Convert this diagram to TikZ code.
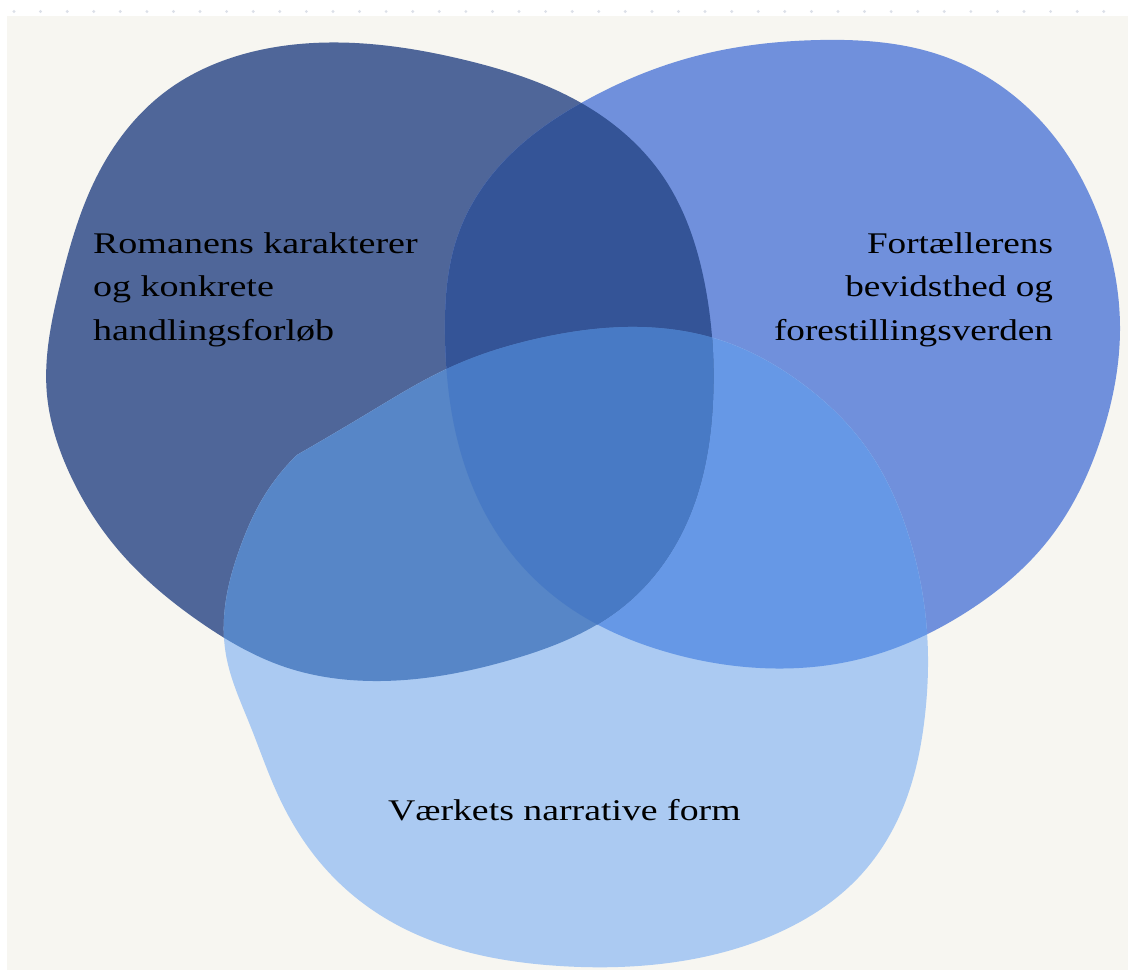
\documentclass[tikz,border=0pt]{standalone}
\usepackage{fontspec}
\usetikzlibrary{hobby}
\setmainfont{Liberation Serif}
\definecolor{bgc}{HTML}{F7F6F1}
\definecolor{dotc}{HTML}{DCE0E8}
\definecolor{colA}{HTML}{4F6699}
\definecolor{colB}{HTML}{7090DC}
\definecolor{colC}{HTML}{ABCAF2}
\definecolor{colAB}{HTML}{345497}
\definecolor{colAC}{HTML}{5786C7}
\definecolor{colBC}{HTML}{6698E6}
\definecolor{colABC}{HTML}{487AC5}
\begin{document}
\begin{tikzpicture}[x=1pt,y=-1pt,
  lbl/.style={inner sep=0pt,outer sep=0pt,text=black,font=\fontsize{30}{43.5}\selectfont}]
\useasboundingbox (0,0) rectangle (1128,970);
\fill[white] (0,0) rectangle (1128,970);
\fill[bgc] (7,16) rectangle (1128,970);
\foreach \i in {0,...,41} \fill[dotc] (14+26.58*\i,11.5) circle (1.6);
\def\pathA{plot[closed hobby] coordinates{
 (47,395) (60,285) (95,180) (165,92) (260,50) (355,43) (465,60) (583,104)
 (662,175) (705,285) (713,400) (690,515) (625,605) (510,660) (380,681) (285,667) (200,622) (120,552) (68,470)}}
\def\pathB{plot[closed hobby] coordinates{
 (445,335) (458,235) (505,160) (583,102) (700,55) (820,40) (940,55)
 (1040,120) (1100,220) (1120,330) (1102,435) (1050,538) (965,613) (860,659) (760,668)
 (660,650) (570,608) (500,538) (460,450)}}
\def\pathC{plot[hobby] coordinates{
 (297,455) (370,412) (453,366) (540,338) (627,327) (720,340) (800,382)
 (868,450) (910,540) (927,632) (925,715) (902,810) (858,878) (780,932) (660,964)
 (560,966) (460,950) (380,915) (318,860) (278,795) (250,725) (226,655) (226,600) (240,548)
 (263,498) (297,455)} -- cycle}
\fill[colA] \pathA;
\fill[colB] \pathB;
\fill[colC] \pathC;
\begin{scope}
 \clip \pathB;
 \fill[colBC] \pathC;
\end{scope}
\begin{scope}
 \clip \pathA;
 \fill[colAB] \pathB;
 \fill[colAC] \pathC;
\end{scope}
\begin{scope}
 \clip \pathA;
 \clip \pathB;
 \fill[colABC] \pathC;
\end{scope}
\node[lbl,anchor=base west] (romanen) at (93,253)
 {\scalebox{1.27}[1]{\begin{tabular}[t]{@{}l@{}}Romanens karakterer\\og konkrete\\handlingsforløb\end{tabular}}};
\node[lbl,anchor=base east] (fortaeller) at (1053,253)
 {\scalebox{1.24}[1]{\begin{tabular}[t]{@{}r@{}}Fortællerens\\bevidsthed og\\forestillingsverden\end{tabular}}};
\node[lbl,anchor=base west] (vaerk) at (388,820)
 {\scalebox{1.26}[1]{Værkets narrative form}};
\end{tikzpicture}
\end{document}
